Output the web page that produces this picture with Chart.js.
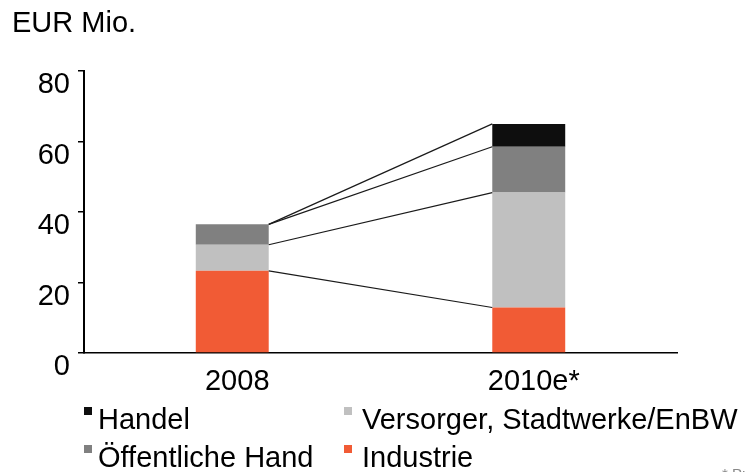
<!DOCTYPE html>
<html>
<head>
<meta charset="utf-8">
<script src="https://cdn.jsdelivr.net/npm/chart.js@4/dist/chart.umd.min.js"></script>
<style>
    body { margin: 0; background: #fff; }
    #wrap { width: 745px; height: 472px; }
</style>
</head>
<body>
<div id="wrap"><canvas id="marktChart" width="745" height="472"></canvas></div>
<script>
// DATEN

const categories = ["2008", "2010e*"];
const industrie = [23.3, 12.9];
const versorger = [7.4, 32.6];
const oeffentlich = [5.8, 13.0];
const handel = [0, 6.5];
const yTicks = [0, 20, 40, 60, 80];

const unitLabel = "EUR Mio.";
const footnote = "* Prognose";

// Reihenfolge im Stapel: unten -> oben
const series = [
    { name: "Industrie", values: industrie, color: "#F15B35" },
    { name: "Versorger, Stadtwerke/EnBW", values: versorger, color: "#C0C0C0" },
    { name: "Öffentliche Hand", values: oeffentlich, color: "#808080" },
    { name: "Handel", values: handel, color: "#0E0E0E" },
];

// Legende: 2 Spalten, 2 Zeilen
const legendRows = [
    ["Handel", "Versorger, Stadtwerke/EnBW"],
    ["Öffentliche Hand", "Industrie"],
];

const FONT = "'Liberation Sans', Arial, sans-serif";
const FS = 29;

// Verbindungslinien zwischen den Balken
const connectorPlugin = {
    id: "connectors",
    afterDatasetsDraw(chart) {
        const c = chart.ctx;
        c.save();
        c.strokeStyle = "#1a1a1a";
        c.lineWidth = 1.2;
        chart.data.datasets.forEach((ds, i) => {
            const meta = chart.getDatasetMeta(i);
            const a = meta.data[0];
            const b = meta.data[1];
            c.beginPath();
            c.moveTo(a.x + a.width / 2, a.y);
            c.lineTo(b.x - b.width / 2, b.y);
            c.stroke();
        });
        c.restore();
    },
};

// Titel, Legende, Fussnote
const textPlugin = {
    id: "texts",
    afterDraw(chart) {
        const c = chart.ctx;
        c.save();
        c.fillStyle = "#000";
        c.font = FS + "px " + FONT;
        c.textBaseline = "alphabetic";
        c.fillText(unitLabel, 12, 32);

        const colX = [84, 344];
        const textX = [98, 362];
        const rowY = [429, 467];
        legendRows.forEach((row, r) => {
            row.forEach((name, k) => {
                const s = series.find((d) => d.name === name);
                c.fillStyle = s.color;
                c.fillRect(colX[k], rowY[r] - 22, 8, 8);
                c.fillStyle = "#000";
                c.fillText(name, textX[k], rowY[r]);
            });
        });

        // Fussnote, am unteren Rand abgeschnitten
        c.fillStyle = "#888";
        c.font = "15px " + FONT;
        c.fillText(footnote, 722, 479);
        c.restore();
    },
};

new Chart(document.getElementById("marktChart"), {
    type: "bar",
    data: {
        labels: categories,
        datasets: series.map((s) => ({
            label: s.name,
            data: s.values,
            backgroundColor: s.color,
            borderWidth: 0,
            categoryPercentage: 1,
            barPercentage: 0.246,
        })),
    },
    options: {
        responsive: false,
        animation: false,
        layout: {
            padding: { left: 0, top: 71, right: 68, bottom: 0 },
        },
        plugins: {
            legend: { display: false },
            tooltip: { enabled: false },
            title: { display: false },
        },
        scales: {
            x: {
                stacked: true,
                grid: { display: false, drawTicks: false },
                border: { color: "#000", width: 1.5 },
                ticks: {
                    color: "#000",
                    font: { family: FONT, size: FS },
                    padding: 12,
                    labelOffset: 5,
                },
                afterFit(scale) {
                    scale.height = 119;
                },
            },
            y: {
                stacked: true,
                min: 0,
                max: 80,
                afterBuildTicks(scale) {
                    scale.ticks = yTicks.map((v) => ({ value: v }));
                },
                grid: {
                    drawOnChartArea: false,
                    drawTicks: true,
                    tickLength: 6,
                    color: "#000",
                    lineWidth: 1.5,
                },
                border: { color: "#000", width: 2 },
                ticks: {
                    color: "#000",
                    font: { family: FONT, size: FS },
                    padding: 8,
                    labelOffset: 14,
                },
                afterFit(scale) {
                    scale.width = 84;
                },
            },
        },
    },
    plugins: [connectorPlugin, textPlugin],
});
</script>
</body>
</html>
